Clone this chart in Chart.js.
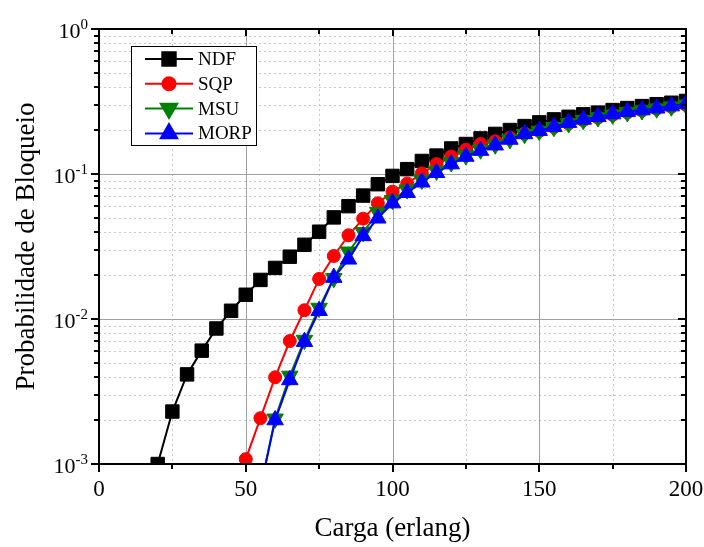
<!DOCTYPE html>
<html>
<head>
<meta charset="utf-8">
<script src="https://cdn.jsdelivr.net/npm/chart.js@4/dist/chart.umd.min.js"></script>
<style>
  html, body { margin: 0; padding: 0; background: #fff; }
</style>
</head>
<body>
<canvas id="myChart" width="704" height="547"></canvas>
<script>
// Offered load (erlang) for every simulated point
const loads = [20, 25, 30, 35, 40, 45, 50, 55, 60, 65, 70, 75, 80, 85, 90, 95, 100,
  105, 110, 115, 120, 125, 130, 135, 140, 145, 150, 155, 160, 165, 170, 175, 180,
  185, 190, 195, 200];

// Blocking probability per algorithm (null = not simulated / off the chart)
const ndf = [1.0e-3, 2.3e-3, 4.15e-3, 6.05e-3, 8.6e-3, 1.14e-2, 1.47e-2, 1.86e-2, 2.25e-2,
  2.69e-2, 3.25e-2, 4.0e-2, 5.02e-2, 6.0e-2, 7.1e-2, 8.5e-2, 9.7e-2, 0.108, 0.123, 0.134,
  0.150, 0.161, 0.176, 0.189, 0.201, 0.214, 0.227, 0.238, 0.248, 0.258, 0.265, 0.276,
  0.285, 0.294, 0.303, 0.310, 0.319];
const sqp = [null, null, null, null, null, null, 1.08e-3, 2.07e-3, 3.96e-3, 7.05e-3, 1.15e-2,
  1.89e-2, 2.72e-2, 3.78e-2, 4.92e-2, 6.28e-2, 7.55e-2, 8.6e-2, 0.101, 0.117, 0.132, 0.147,
  0.161, 0.168, 0.178, 0.190, 0.198, 0.210, 0.223, 0.235, 0.245, 0.256, 0.266, 0.274,
  0.282, 0.291, 0.300];
const msu = [null, null, null, null, null, null, null, 6.8e-4, 2.05e-3, 4.05e-3, 7.16e-3,
  1.19e-2, 1.91e-2, 2.91e-2, 3.96e-2, 5.44e-2, 6.6e-2, 7.8e-2, 9.1e-2, 0.105, 0.120, 0.134,
  0.147, 0.159, 0.173, 0.188, 0.198, 0.210, 0.223, 0.235, 0.245, 0.256, 0.266, 0.274,
  0.282, 0.291, 0.300];
const morp = [null, null, null, null, null, null, null, 6.8e-4, 2.01e-3, 3.8e-3, 6.98e-3,
  1.14e-2, 1.93e-2, 2.58e-2, 3.74e-2, 4.95e-2, 6.3e-2, 7.43e-2, 8.77e-2, 0.102, 0.117,
  0.132, 0.145, 0.158, 0.173, 0.189, 0.199, 0.212, 0.226, 0.238, 0.248, 0.259, 0.269,
  0.276, 0.284, 0.294, 0.304];

// Tick positions and labels
const xMajorTicks = [0, 50, 100, 150, 200];
const xMinorTicks = [25, 75, 125, 175];
const yMajorTicks = [1e-3, 1e-2, 1e-1, 1];
const yTickExponents = ['-3', '-2', '-1', '0'];
const yMinorTicks = [2e-3, 3e-3, 4e-3, 5e-3, 6e-3, 7e-3, 8e-3, 9e-3,
  2e-2, 3e-2, 4e-2, 5e-2, 6e-2, 7e-2, 8e-2, 9e-2,
  0.2, 0.3, 0.4, 0.5, 0.6, 0.7, 0.8, 0.9];

const FONT = '"Liberation Serif", "Times New Roman", serif';
Chart.defaults.font.family = FONT;
Chart.defaults.color = '#000';

function series(label, values, color, style, radius, rotation, order) {
  return {
    label,
    data: loads.map((x, i) => ({ x, y: values[i] })),
    borderColor: color,
    backgroundColor: color,
    borderWidth: 2,
    pointStyle: style,
    pointRadius: radius,
    pointHoverRadius: radius,
    pointRotation: rotation,
    pointBorderWidth: 1,
    pointBackgroundColor: color,
    pointBorderColor: color,
    tension: 0,
    fill: false,
    order
  };
}

const datasets = [
  series('NDF', ndf, '#000000', 'rect', 9.5, 0, 3),
  series('SQP', sqp, '#ff0000', 'circle', 6.5, 0, 2),
  series('MSU', msu, '#008000', 'triangle', 9.5, 180, 1),
  series('MORP', morp, '#0000ff', 'triangle', 9.5, 0, 0)
];

function line(ctx, x1, y1, x2, y2) {
  ctx.beginPath();
  ctx.moveTo(x1, y1);
  ctx.lineTo(x2, y2);
  ctx.stroke();
}

// grid, frame, ticks, superscript y labels and the boxed legend
const originLook = {
  id: 'originLook',
  beforeDatasetsDraw(chart) {
    const { ctx, chartArea: a, scales: { x, y } } = chart;
    ctx.save();
    ctx.lineWidth = 1;
    ctx.strokeStyle = '#c8c8c8';
    ctx.setLineDash([2, 3]);
    xMinorTicks.forEach(v => {
      const px = Math.round(x.getPixelForValue(v)) + 0.5;
      line(ctx, px, a.top, px, a.bottom);
    });
    yMinorTicks.forEach(v => {
      const py = Math.round(y.getPixelForValue(v)) + 0.5;
      line(ctx, a.left, py, a.right, py);
    });
    ctx.setLineDash([]);
    ctx.strokeStyle = '#a0a0a0';
    xMajorTicks.forEach(v => {
      const px = Math.round(x.getPixelForValue(v)) + 0.5;
      line(ctx, px, a.top, px, a.bottom);
    });
    yMajorTicks.forEach(v => {
      const py = Math.round(y.getPixelForValue(v)) + 0.5;
      line(ctx, a.left, py, a.right, py);
    });
    ctx.restore();
  },
  afterDatasetsDraw(chart) {
    const { ctx, chartArea: a, scales: { x, y } } = chart;
    ctx.save();
    ctx.strokeStyle = '#000';
    ctx.lineWidth = 2;
    ctx.strokeRect(a.left, a.top, a.right - a.left, a.bottom - a.top);

    // tick marks: outward on bottom/left, inward on top/right
    xMajorTicks.forEach(v => {
      const px = Math.round(x.getPixelForValue(v));
      line(ctx, px, a.bottom, px, a.bottom + 8);
      line(ctx, px, a.top, px, a.top + 7);
    });
    xMinorTicks.forEach(v => {
      const px = Math.round(x.getPixelForValue(v));
      line(ctx, px, a.bottom, px, a.bottom + 5);
      line(ctx, px, a.top, px, a.top + 5);
    });
    yMajorTicks.forEach(v => {
      const py = Math.round(y.getPixelForValue(v));
      line(ctx, a.left - 8, py, a.left, py);
      line(ctx, a.right - 8, py, a.right, py);
    });
    yMinorTicks.forEach(v => {
      const py = Math.round(y.getPixelForValue(v));
      line(ctx, a.left - 5, py, a.left, py);
      line(ctx, a.right - 5, py, a.right, py);
    });

    // y labels as 10 with a superscript exponent
    ctx.fillStyle = '#000';
    ctx.textBaseline = 'alphabetic';
    yMajorTicks.forEach((v, i) => {
      const py = y.getPixelForValue(v);
      ctx.font = '15px ' + FONT;
      const expW = ctx.measureText(yTickExponents[i]).width;
      const right = a.left - 11;
      ctx.textAlign = 'left';
      ctx.fillText(yTickExponents[i], right - expW, py);
      ctx.font = '22px ' + FONT;
      ctx.textAlign = 'right';
      ctx.fillText('10', right - expW, py + 9);
    });
    ctx.restore();
  },
  afterDraw(chart) {
    const { ctx } = chart;
    const box = { left: 131, top: 46, width: 125, height: 99 };
    ctx.save();
    ctx.fillStyle = '#fff';
    ctx.fillRect(box.left, box.top, box.width, box.height);
    ctx.strokeStyle = '#000';
    ctx.lineWidth = 1;
    ctx.strokeRect(box.left + 0.5, box.top + 0.5, box.width, box.height);
    chart.data.datasets.forEach((ds, i) => {
      const cy = 59 + i * 24.8;
      ctx.strokeStyle = ds.borderColor;
      ctx.lineWidth = 2;
      line(ctx, 145, cy, 193, cy);
      ctx.fillStyle = ds.pointBackgroundColor;
      Chart.helpers.drawPoint(ctx, {
        pointStyle: ds.pointStyle,
        radius: ds.pointRadius,
        rotation: ds.pointRotation,
        borderWidth: 1
      }, 169, cy);
      ctx.fillStyle = '#000';
      ctx.font = '19px ' + FONT;
      ctx.textAlign = 'left';
      ctx.textBaseline = 'middle';
      ctx.fillText(ds.label, 198, cy + 1);
    });
    ctx.restore();
  }
};

const ctx = document.getElementById('myChart').getContext('2d');
new Chart(ctx, {
  type: 'line',
  data: { datasets },
  plugins: [originLook],
  options: {
    responsive: false,
    animation: false,
    layout: { padding: { top: 29, right: 18, left: 0, bottom: 0 } },
    plugins: { legend: { display: false }, tooltip: { enabled: false } },
    scales: {
      x: {
        type: 'linear',
        min: 0,
        max: 200,
        afterFit(scale) {
          scale.height = 83;
          scale.paddingLeft = 0;
          scale.paddingRight = 0;
        },
        ticks: { stepSize: 50, padding: 12, font: { size: 23 }, maxRotation: 0 },
        grid: { display: false, drawTicks: false },
        border: { display: false },
        title: { display: true, text: 'Carga (erlang)', font: { size: 27 }, padding: { top: 0, bottom: 2 } }
      },
      y: {
        type: 'logarithmic',
        min: 0.001,
        max: 1,
        afterFit(scale) {
          scale.width = 99;
          scale.paddingTop = 0;
          scale.paddingBottom = 0;
        },
        ticks: { display: false },
        grid: { display: false, drawTicks: false },
        border: { display: false },
        title: { display: true, text: 'Probabilidade de Bloqueio', font: { size: 27 }, padding: { top: 11, bottom: 0 } }
      }
    }
  }
});
</script>
</body>
</html>
